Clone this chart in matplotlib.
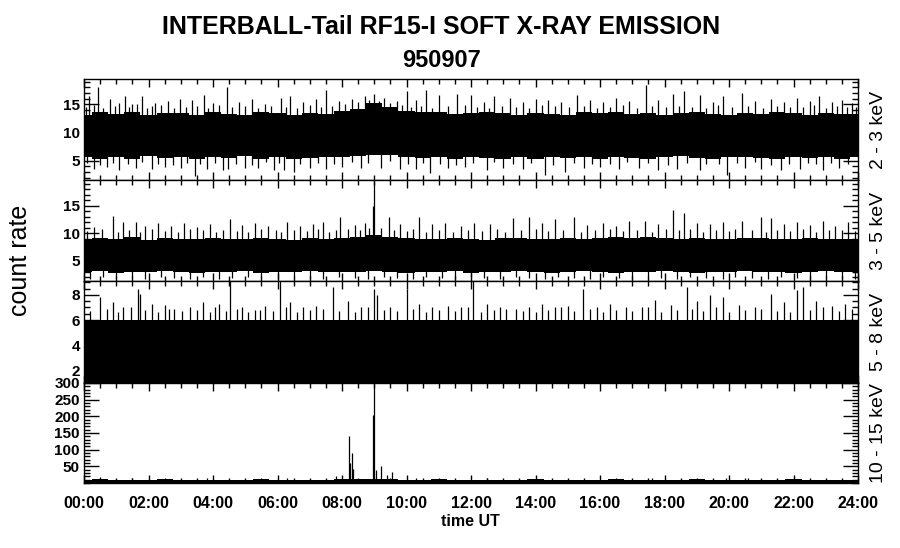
import matplotlib
matplotlib.use('Agg')
import matplotlib.pyplot as plt
import numpy as np
from matplotlib.ticker import MultipleLocator, FixedLocator

plt.rcParams['font.family'] = ['Liberation Sans', 'DejaVu Sans']

title = "INTERBALL-Tail RF15-I SOFT X-RAY EMISSION"
date_label = "950907"
band_labels = ["2 - 3 keV", "3 - 5 keV", "5 - 8 keV", "10 - 15 keV"]
hour_labels = ["00:00", "02:00", "04:00", "06:00", "08:00", "10:00", "12:00",
               "14:00", "16:00", "18:00", "20:00", "22:00", "24:00"]

# half-hourly envelope of the dense core of each channel
env_t = [h / 2 for h in range(49)]
p1_hi = [13.2, 13.6, 13.3, 13.7, 13.1, 13.5, 13.4, 13.1,
         13.6, 13.3, 13.2, 13.6, 13.4, 13.1, 13.5, 13.3,
         13.8, 14.2, 15.2, 14.6, 13.9, 13.7, 13.6, 13.3,
         13.5, 13.7, 13.4, 13.2, 13.5, 13.3, 13.2, 13.6,
         13.4, 13.7, 13.3, 13.5, 13.2, 13.4, 13.6, 13.3,
         13.2, 13.5, 13.3, 13.6, 13.4, 13.2, 13.5, 13.3,
         13.3]
p1_lo = [5.7, 5.4, 5.6, 5.3, 5.8, 5.5, 5.6, 5.4,
         5.7, 5.5, 5.8, 5.4, 5.6, 5.3, 5.5, 5.7,
         5.6, 5.9, 6.1, 6.0, 5.7, 5.5, 5.6, 5.4,
         5.7, 5.5, 5.3, 5.6, 5.4, 5.7, 5.5, 5.6,
         5.4, 5.7, 5.5, 5.3, 5.6, 5.8, 5.5, 5.4,
         5.6, 5.7, 5.5, 5.4, 5.6, 5.5, 5.7, 5.4,
         5.6]
p2_hi = [8.9, 9.2, 9.0, 9.3, 8.8, 9.1, 9.0, 8.9,
         9.2, 9.0, 8.9, 9.2, 9.0, 8.8, 9.1, 9.0,
         9.2, 9.4, 9.6, 9.3, 9.1, 9.0, 8.9, 9.1,
         9.0, 8.8, 9.1, 9.2, 9.0, 8.9, 9.1, 9.0,
         9.2, 9.3, 9.1, 9.4, 9.2, 9.0, 9.1, 8.9,
         9.0, 9.2, 9.1, 8.9, 9.0, 9.2, 9.0, 8.9,
         9.0]
p2_lo = [2.9, 3.1, 2.8, 3.0, 2.9, 3.2, 3.0, 2.8,
         3.0, 2.9, 3.1, 2.8, 3.0, 2.9, 3.1, 3.0,
         2.9, 3.0, 3.1, 2.9, 2.8, 3.0, 2.9, 3.1,
         2.8, 3.0, 2.9, 3.1, 3.0, 2.8, 2.9, 3.1,
         3.0, 2.8, 2.9, 3.0, 3.1, 2.9, 2.8, 3.0,
         2.9, 3.1, 3.0, 2.9, 2.8, 3.0, 3.1, 2.9,
         3.0]
p3_hi = [6.0] * 49
p3_lo = [1.0] * 49
p4_hi = [10, 11, 10, 9, 10, 11, 10, 10, 9, 10, 10, 11, 10, 9, 10, 10,
         11, 12, 12, 11, 10, 10, 11, 10, 9, 10, 10, 10, 11, 10, 9, 10,
         10, 11, 10, 10, 9, 10, 11, 10, 10, 10, 9, 10, 11, 10, 10, 10,
         10]
p4_lo = [0] * 49

# tall spikes sticking out of the core (hour, count rate)
p1_up_t = [0.16, 0.44, 0.81, 1.1, 1.27, 1.5, 1.79, 2.2, 2.6, 2.98, 3.34, 3.72, 4.0, 4.42,
           4.8, 5.2, 5.6, 6.1, 6.4, 6.8, 7.2, 7.49, 7.9, 8.3, 8.7, 9.0, 9.3, 9.7, 10.0,
           10.3, 10.6, 11.0, 11.56, 12.0, 12.4, 12.7, 13.2, 13.6, 14.0, 14.4, 14.8, 15.3,
           15.7, 16.1, 16.5, 16.9, 17.43, 17.8, 18.27, 18.6, 19.1, 19.5, 19.8, 20.4, 20.8,
           21.3, 21.7, 22.1, 22.5, 22.8, 23.2, 23.5, 23.8]
p1_up_v = [16.5, 18.1, 15.9, 15.2, 16.4, 15.0, 16.5, 15.3, 15.6, 16.0, 15.8, 16.6, 15.2, 18.1,
           15.5, 15.9, 15.1, 16.2, 16.4, 15.4, 15.9, 17.5, 15.6, 16.0, 16.4, 16.8, 16.2, 15.6, 17.3,
           15.8, 17.5, 16.6, 16.9, 16.6, 15.5, 16.5, 16.2, 15.4, 15.9, 15.7, 15.5, 16.6,
           15.8, 15.4, 16.2, 15.6, 18.4, 15.7, 16.9, 17.3, 16.6, 15.5, 16.4, 17.0, 15.6,
           15.9, 15.4, 16.2, 15.6, 16.4, 15.5, 15.8, 15.2]
# shorter fringe spikes just above the core
p1_fr_t = [0.05, 0.3, 0.6, 0.95, 1.4, 1.65, 1.95, 2.1, 2.4, 2.8, 3.15, 3.5, 3.85, 4.2, 4.6,
           5.0, 5.4, 5.8, 6.25, 6.6, 7.0, 7.35, 7.7, 8.1, 8.5, 8.85, 9.15, 9.5, 9.85, 10.15,
           10.45, 10.8, 11.3, 11.8, 12.2, 12.55, 12.95, 13.4, 13.8, 14.2, 14.6, 15.05, 15.5,
           15.9, 16.3, 16.7, 17.15, 17.6, 18.05, 18.45, 18.85, 19.3, 19.65, 20.1, 20.6,
           21.05, 21.5, 21.9, 22.3, 22.65, 23.0, 23.35, 23.65, 23.95]
p1_fr_v = [14.6, 14.9, 14.3, 14.8, 14.5, 15.1, 14.4, 14.7, 14.9, 14.3, 14.6, 14.8, 14.4,
           14.9, 14.5, 14.7, 14.3, 14.8, 14.6, 14.4, 14.9, 14.5, 14.7, 15.0, 15.4, 15.8,
           15.6, 15.2, 14.9, 14.6, 14.8, 14.4, 14.7, 14.9, 14.5, 14.3, 14.8, 14.6, 14.4,
           14.9, 14.7, 14.5, 14.8, 14.3, 14.6, 14.9, 14.4, 14.7, 14.5, 14.8, 14.6, 14.3,
           14.9, 14.5, 14.7, 14.4, 14.8, 14.6, 14.5, 14.9, 14.3, 14.7, 14.5, 14.6]
p1_dn_t = [0.3, 0.7, 1.1, 1.6, 2.1, 2.5, 3.0, 3.44, 3.8, 4.3, 4.45, 5.0, 5.4, 5.9, 6.2, 6.5,
           7.0, 7.5, 8.0, 8.6, 9.2, 9.8, 10.3, 10.73, 11.3, 11.8, 12.5, 13.0, 13.6, 14.3,
           14.9, 15.5, 16.0, 16.6, 17.2, 17.8, 18.4, 19.1, 19.93, 20.5, 21.0, 21.6, 22.2,
           22.9, 23.4]
p1_dn_v = [3.6, 3.9, 3.4, 3.8, 3.5, 3.9, 3.7, 2.3, 3.6, 3.4, 3.5, 3.8, 3.7, 3.3, 3.4, 3.1,
           3.8, 3.6, 3.9, 3.7, 3.8, 3.5, 3.6, 2.8, 3.7, 3.9, 3.3, 3.8, 3.6, 2.5,
           3.0, 3.7, 3.9, 3.5, 3.8, 3.3, 3.6, 3.4, 2.5, 3.7, 3.5, 3.3, 3.6,
           3.4, 3.7]
p1_dfr_t = [0.1, 0.5, 0.9, 1.35, 1.8, 2.3, 2.75, 3.2, 3.6, 4.05, 4.7, 5.2, 5.65, 6.05,
            6.7, 7.25, 7.75, 8.3, 8.8, 9.5, 10.05, 10.5, 11.05, 11.55, 12.05, 12.7, 13.3,
            13.85, 14.55, 15.2, 15.75, 16.3, 16.85, 17.5, 18.1, 18.7, 19.3, 19.7, 20.25,
            20.8, 21.3, 21.85, 22.45, 22.7, 23.15, 23.7]
p1_dfr_v = [4.6, 4.3, 4.7, 4.4, 4.8, 4.5, 4.3, 4.6, 4.4, 4.7, 4.5, 4.3, 4.8, 4.6,
            4.4, 4.7, 4.5, 4.8, 4.6, 4.9, 4.4, 4.7, 4.5, 4.3, 4.6, 4.8, 4.4,
            4.6, 4.3, 4.7, 4.5, 4.4, 4.8, 4.6, 4.3, 4.7, 4.5, 4.4, 4.6,
            4.8, 4.3, 4.5, 4.7, 4.4, 4.6, 4.5]

p2_up_t = [0.3, 0.89, 1.2, 1.6, 1.9, 2.3, 2.7, 3.1, 3.5, 3.9, 4.53, 4.9, 5.3, 5.7, 6.3, 6.7,
           7.1, 7.4, 7.95, 8.4, 8.7, 8.97, 9.0, 9.45, 9.8, 10.4, 10.8, 11.2, 11.7, 12.1, 12.6,
           13.3, 13.8, 14.2, 14.6, 15.2, 15.6, 16.1, 16.5, 16.9, 17.4, 17.8, 18.27, 18.6,
           19.0, 19.4, 19.8, 20.4, 21.0, 21.3, 21.7, 22.1, 22.5, 22.9, 23.3, 23.7]
p2_up_v = [11.2, 13.2, 12.1, 12.0, 11.4, 11.8, 11.3, 11.9, 11.2, 11.6, 12.6, 11.5, 11.8, 11.3,
           12.0, 11.4, 11.6, 12.1, 13.0, 11.5, 11.9, 14.9, 19.6, 13.0, 11.7, 13.0, 11.6, 11.9,
           11.4, 11.9, 11.6, 12.7, 13.0, 11.9, 12.6, 13.0, 11.5, 11.8, 11.4, 12.2, 12.3, 11.6,
           14.3, 13.6, 11.9, 11.6, 12.0, 12.2, 13.0, 12.7, 11.6, 12.1, 11.5, 12.2, 11.4, 12.1]
p2_fr_t = [0.1, 0.55, 1.05, 1.4, 1.75, 2.1, 2.5, 2.9, 3.3, 3.7, 4.1, 4.3, 4.75, 5.1, 5.5,
           5.95, 6.1, 6.5, 6.9, 7.25, 7.6, 7.8, 8.2, 8.55, 8.85, 9.2, 9.6, 10.0, 10.2, 10.6,
           11.0, 11.45, 11.9, 12.35, 12.8, 13.05, 13.55, 14.0, 14.4, 14.85, 15.4, 15.85,
           16.3, 16.7, 17.15, 17.6, 18.05, 18.45, 18.8, 19.2, 19.6, 20.0, 20.2, 20.7, 21.15,
           21.5, 21.9, 22.3, 22.7, 23.1, 23.5, 23.9]
p2_fr_v = [10.4, 10.7, 10.2, 10.6, 10.3, 10.8, 10.4, 10.2, 10.7, 10.5, 10.3, 10.6, 10.4,
           10.2, 10.7, 10.5, 10.3, 10.6, 10.4, 10.8, 10.2, 10.5, 10.7, 10.6, 10.9, 11.0,
           10.6, 10.4, 10.7, 10.3, 10.5, 10.2, 10.6, 10.4, 10.7, 10.3, 10.5, 10.8, 10.4,
           10.6, 10.3, 10.5, 10.7, 10.4, 10.6, 10.2, 10.8, 10.5, 10.7, 10.3, 10.6, 10.4,
           10.7, 10.5, 10.3, 10.6, 10.4, 10.7, 10.2, 10.5, 10.6, 10.4]
p2_dn_t = [0.2, 0.6, 1.0, 1.5, 1.9, 2.4, 2.8, 3.3, 3.7, 4.2, 4.6, 5.1, 5.5, 6.0, 6.5, 7.0,
           7.4, 7.9, 8.4, 8.8, 9.3, 9.7, 10.2, 10.6, 11.1, 11.5, 12.0, 12.4, 12.9, 13.4,
           13.8, 14.3, 14.7, 15.2, 15.7, 16.1, 16.6, 17.0, 17.5, 17.9, 18.4, 18.8, 19.3,
           19.8, 20.2, 20.7, 21.2, 21.6, 22.1, 22.5, 23.0, 23.5, 23.9]
p2_dn_v = [1.7, 2.0, 1.8, 2.1, 1.6, 2.0, 1.9, 1.7, 2.0, 1.6, 1.9, 2.1, 1.8, 1.7, 2.0, 1.9,
           1.6, 2.1, 1.8, 1.6, 2.0, 1.9, 1.7, 2.1, 1.8, 1.6, 2.0, 1.9, 1.7, 2.0,
           1.8, 1.6, 2.0, 1.9, 1.7, 2.0, 1.8, 1.6, 2.1, 1.9, 1.7, 2.0, 1.8,
           1.6, 2.0, 1.9, 1.7, 2.1, 1.8, 1.6, 2.0, 1.9, 1.7]

p3_up_t = [0.5, 0.9, 1.2, 1.68, 1.75, 2.1, 2.5, 2.8, 3.3, 3.7, 4.2, 4.53, 4.9, 5.3, 5.6, 6.08,
           6.4, 6.8, 7.2, 7.73, 8.2, 8.6, 9.0, 9.1, 9.5, 10.0, 10.4, 10.8, 11.3, 11.7, 12.07,
           12.5, 12.9, 13.4, 13.8, 14.2, 14.6, 15.0, 15.48, 15.9, 16.3, 16.8, 17.3, 17.7,
           18.2, 18.69, 19.0, 19.4, 19.8, 20.3, 20.8, 21.3, 21.7, 22.1, 22.3, 22.7, 23.2, 23.6]
p3_up_v = [7.85, 7.4, 7.0, 8.5, 8.1, 7.3, 7.2, 6.9, 7.0, 7.4, 7.3, 9.1, 7.0, 6.8, 7.1, 9.1,
           7.4, 7.0, 7.1, 8.6, 7.5, 7.0, 8.5, 8.0, 7.0, 8.5, 7.3, 7.0, 7.1, 7.0, 9.1,
           7.3, 7.0, 6.9, 7.0, 7.3, 7.0, 7.1, 8.5, 7.0, 7.3, 7.0, 7.0, 7.6,
           7.2, 8.6, 7.5, 8.0, 7.8, 7.2, 7.0, 8.1, 7.4, 8.4, 8.6, 7.5, 7.1, 7.3]
p3_fr_t = [0.2, 0.7, 1.05, 1.45, 1.9, 2.3, 2.65, 3.05, 3.5, 3.9, 4.05, 4.4, 4.75, 5.1, 5.45,
           5.85, 6.25, 6.6, 7.0, 7.4, 7.9, 8.4, 8.8, 9.3, 9.7, 10.2, 10.6, 11.0, 11.5, 11.9,
           12.3, 12.7, 13.1, 13.6, 14.0, 14.4, 14.8, 15.2, 15.7, 16.1, 16.5, 17.0, 17.5,
           17.9, 18.4, 18.85, 19.2, 19.6, 20.0, 20.5, 21.0, 21.5, 21.9, 22.5, 22.9, 23.4,
           23.8]
p3_fr_v = [6.7, 6.9, 6.6, 7.0, 6.8, 6.6, 6.9, 6.7, 6.8, 6.6, 7.0, 6.7, 6.9, 6.6, 6.8,
           6.7, 7.0, 6.6, 6.8, 6.9, 6.7, 6.6, 7.0, 6.8, 6.7, 6.9, 6.6, 6.8, 6.7, 7.0,
           6.6, 6.8, 6.9, 6.7, 6.6, 6.8, 7.0, 6.7, 6.9, 6.6, 6.8, 6.7, 7.0,
           6.6, 6.8, 6.9, 6.7, 7.0, 6.6, 6.8, 6.9, 6.7, 6.6, 6.8, 7.0, 6.7,
           6.9]

p4_up_t = [0.5, 1.5, 3.8, 6.3, 7.8, 8.23, 8.26, 8.3, 8.33, 8.97, 9.0, 9.05, 9.2, 9.4, 9.54,
           10.3, 12.5, 17.6, 19.9, 20.6]
p4_up_v = [18, 15, 16, 14, 20, 142, 60, 90, 41, 204, 300, 40, 50, 25, 32,
           16, 14, 15, 16, 14]

panels = [
    dict(hi=p1_hi, lo=p1_lo, up=[(p1_up_t, p1_up_v), (p1_fr_t, p1_fr_v)],
         dn=[(p1_dn_t, p1_dn_v), (p1_dfr_t, p1_dfr_v)],
         ylim=(1.6, 19.5), major=[5, 10, 15], minor=1, base=9.5),
    dict(hi=p2_hi, lo=p2_lo, up=[(p2_up_t, p2_up_v), (p2_fr_t, p2_fr_v)],
         dn=[(p2_dn_t, p2_dn_v)],
         ylim=(1.3, 19.7), major=[5, 10, 15], minor=1, base=6.0),
    dict(hi=p3_hi, lo=p3_lo, up=[(p3_up_t, p3_up_v), (p3_fr_t, p3_fr_v)], dn=[],
         ylim=(1.0, 9.1), major=[2, 4, 6, 8], minor=0.5, base=3.5),
    dict(hi=p4_hi, lo=p4_lo, up=[(p4_up_t, p4_up_v)], dn=[],
         ylim=(0, 300), major=[50, 100, 150, 200, 250, 300], minor=10, base=5),
]

fig = plt.figure(figsize=(9, 5.48), dpi=100)

# panel rows in pixels (top, bottom) of the 548 px tall figure
rows = [(79, 180), (180, 281), (281, 383), (383, 483)]
left, right = 84, 858

for i, (p, (top, bot)) in enumerate(zip(panels, rows)):
    ax = fig.add_axes([left / 900, 1 - bot / 548, (right - left) / 900, (bot - top) / 548])
    ax.fill_between(env_t, p['lo'], p['hi'], step='mid', color='k', lw=0)
    for t, v in p['up'] + p['dn']:
        ax.vlines(t, p['base'], v, color='k', lw=0.9)
    ax.set_xlim(0, 24)
    ax.set_ylim(*p['ylim'])
    ax.xaxis.set_major_locator(MultipleLocator(2))
    ax.xaxis.set_minor_locator(MultipleLocator(0.5))
    ax.yaxis.set_major_locator(FixedLocator(p['major']))
    ax.yaxis.set_minor_locator(MultipleLocator(p['minor']))
    ax.tick_params(axis='x', which='major', direction='in', top=True, length=6, width=1)
    ax.tick_params(axis='x', which='minor', direction='in', top=True, length=3.5, width=1)
    ax.tick_params(axis='y', which='major', direction='in', right=True, length=11, width=1,
                   labelsize=11, pad=3)
    ax.tick_params(axis='y', which='minor', direction='in', right=True, length=4.5, width=1)
    for lab in ax.get_yticklabels():
        lab.set_fontweight('bold')
    for s in ax.spines.values():
        s.set_linewidth(1)
    ax.text(1.026, 0.5, band_labels[i], transform=ax.transAxes, rotation=90,
            ha='center', va='center', fontsize=14)
    if i < 3:
        ax.tick_params(axis='x', labelbottom=False)
    else:
        ax.set_xticks(range(0, 25, 2))
        ax.set_xticklabels(hour_labels, fontsize=11.5, fontweight='bold')
        ax.tick_params(axis='x', which='major', pad=9)

fig.text(0.4906, 0.951, title, ha='center', va='center', fontsize=18, fontweight='bold')
fig.text(0.4906, 0.890, date_label, ha='center', va='center', fontsize=17, fontweight='bold')
fig.text(0.523, 1 - 521 / 548, "time UT", ha='center', va='center', fontsize=11.5,
         fontweight='bold')
fig.text(0.022, 0.525, "count rate", ha='center', va='center', rotation=90, fontsize=18)

fig.savefig("out.png", dpi=100)
